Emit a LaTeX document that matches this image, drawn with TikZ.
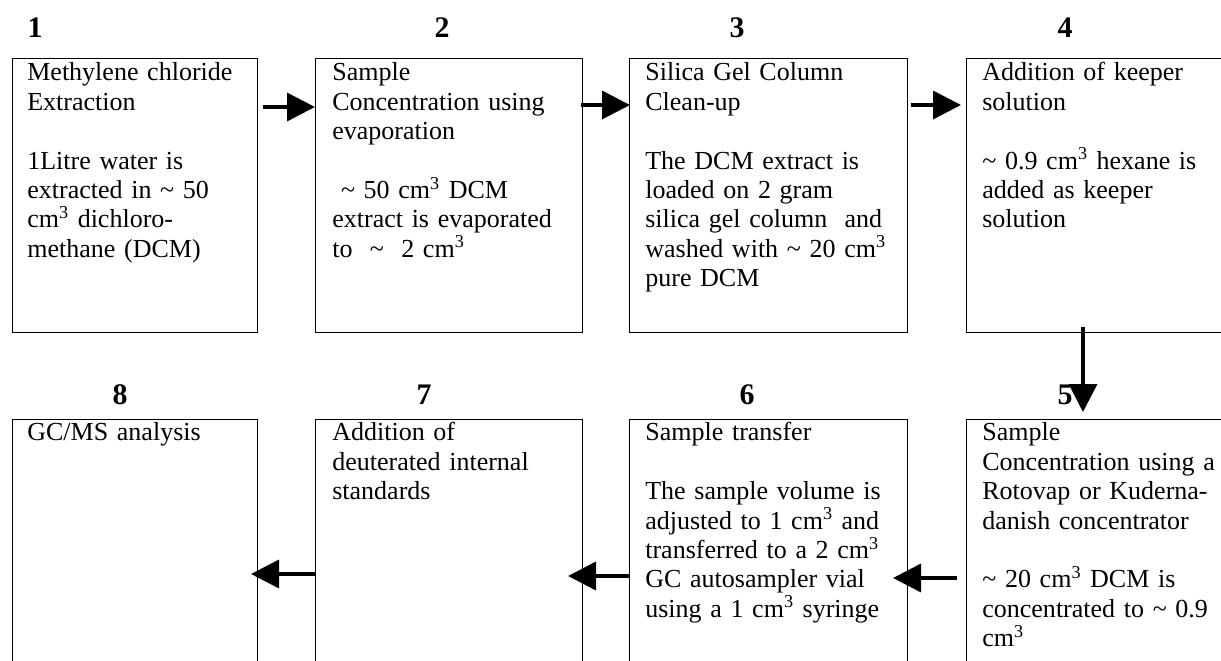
\documentclass[tikz,border=0pt]{standalone}
\usepackage{fontspec}
\setmainfont{Liberation Serif}
\usepackage{tikz}
\usetikzlibrary{arrows.meta}

\newcommand{\abt}{\textasciitilde}
\newcommand{\cmc}{cm\textsuperscript{3}}

\tikzset{
  stepbox/.style={draw, line width=0.6pt, inner sep=0pt, anchor=north west, minimum height=5.48cm},
  steptext/.style={anchor=base west, inner sep=0pt, align=left, text width=5.3cm, font=\fontsize{14.8}{16.7}\selectfont},
  stepnum/.style={anchor=base, inner sep=0pt, font=\fontsize{17}{20}\selectfont\bfseries},
  flow/.style={line width=2pt, -{Triangle[length=0.56cm, width=0.56cm]}}
}

\begin{document}
\begin{tikzpicture}[x=0.02cm, y=0.02cm]

% Picture size as the page
\useasboundingbox (0, 0) rectangle (1221, -661);

% Step numbers
\node[stepnum] (n1) at (35, -38) {1};
\node[stepnum] (n2) at (442, -38) {2};
\node[stepnum] (n3) at (737, -38) {3};
\node[stepnum] (n4) at (1065, -38) {4};
\node[stepnum] (n8) at (120, -405) {8};
\node[stepnum] (n7) at (424, -405) {7};
\node[stepnum] (n6) at (747, -405) {6};
\node[stepnum] (n5) at (1065, -405) {5};

% Boxes, upper row
\node[stepbox, minimum width=4.9cm] (b1) at (12, -58) {};
\node[stepbox, minimum width=5.34cm] (b2) at (315, -58) {};
\node[stepbox, minimum width=5.56cm] (b3) at (629, -58) {};
\node[stepbox, minimum width=5.56cm] (b4) at (966, -58) {};

% Boxes, lower row
\node[stepbox, minimum width=4.9cm] (b8) at (12, -419) {};
\node[stepbox, minimum width=5.34cm] (b7) at (315, -419) {};
\node[stepbox, minimum width=5.56cm] (b6) at (629, -419) {};
\node[stepbox, minimum width=5.56cm] (b5) at (966, -419) {};

% Texts
\node[steptext] (t1) at ([shift={(15, -23)}]b1.north west)
  {Methylene chloride\\Extraction\\[\baselineskip]1Litre water is\\extracted in \abt{} 50\\\cmc{} dichloro-\\methane (DCM)};
\node[steptext] (t2) at ([shift={(17, -23)}]b2.north west)
  {Sample\\Concentration using\\evaporation\\[\baselineskip]\ \abt{} 50 \cmc{} DCM\\extract is evaporated\\to \ \abt{} \ 2 \cmc};
\node[steptext] (t3) at ([shift={(16, -23)}]b3.north west)
  {Silica Gel Column\\Clean-up\\[\baselineskip]The DCM extract is\\loaded on 2 gram\\silica gel column \ and\\washed with \abt{} 20 \cmc\\pure DCM};
\node[steptext] (t4) at ([shift={(16, -23)}]b4.north west)
  {Addition of keeper\\solution\\[\baselineskip]\abt{} 0.9 \cmc{} hexane is\\added as keeper\\solution};
\node[steptext] (t8) at ([shift={(15, -22)}]b8.north west)
  {GC/MS analysis};
\node[steptext] (t7) at ([shift={(17, -22)}]b7.north west)
  {Addition of\\deuterated internal\\standards};
\node[steptext] (t6) at ([shift={(16, -22)}]b6.north west)
  {Sample transfer\\[\baselineskip]The sample volume is\\adjusted to 1 \cmc{} and\\transferred to a 2 \cmc\\GC autosampler vial\\using a 1 \cmc{} syringe};
\node[steptext] (t5) at ([shift={(16, -22)}]b5.north west)
  {Sample\\Concentration using a\\Rotovap or Kuderna-\\danish concentrator\\[\baselineskip]\abt{} 20 \cmc{} DCM is\\concentrated to \abt{} 0.9\\\cmc};

% Arrows
\draw[flow] ([shift={(5, -49)}]b1.north east) -- ([shift={(0, -49)}]b2.north west);
\draw[flow] ([shift={(-2, -47)}]b2.north east) -- ([shift={(1, -47)}]b3.north west);
\draw[flow] ([shift={(3, -47)}]b3.north east) -- ([shift={(-5, -47)}]b4.north west);
\draw[flow] ([shift={(117, 6)}]b4.south west) -- ([shift={(117, 7)}]b5.north west);
\draw[flow] ([shift={(-9, -159)}]b5.north west) -- ([shift={(-15, -159)}]b6.north east);
\draw[flow] ([shift={(1, -157)}]b6.north west) -- ([shift={(-15, -157)}]b7.north east);
\draw[flow] ([shift={(0, -155)}]b7.north west) -- ([shift={(-7, -155)}]b8.north east);

\end{tikzpicture}
\end{document}
